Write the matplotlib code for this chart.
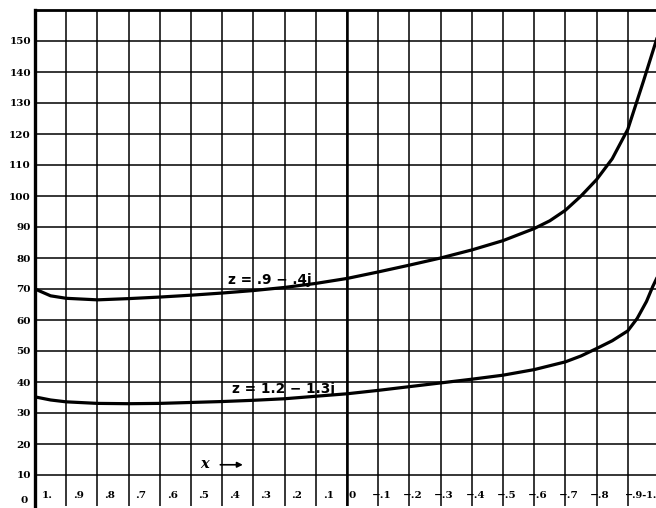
import numpy as np
import matplotlib
matplotlib.use('Agg')
import matplotlib.pyplot as plt

# curve z = .9 - .4j
x_upper = [1.0, .95, .9, .8, .7, .6, .5, .4, .3, .2, .1, 0.0, -.1, -.2, -.3, -.4,
           -.5, -.6, -.65, -.7, -.75, -.8, -.85, -.9, -.95, -1.0]
y_upper = [70.0, 67.8, 67.0, 66.5, 66.9, 67.4, 68.0, 68.7, 69.5, 70.5, 71.8, 73.4,
           75.5, 77.7, 80.0, 82.6, 85.6, 89.5, 92.0, 95.4, 100.0, 105.3, 112.0,
           121.5, 137.0, 153.0]

# curve z = 1.2 - 1.3j
x_lower = [1.0, .95, .9, .8, .7, .6, .5, .4, .3, .2, .1, 0.0, -.1, -.2, -.3, -.4,
           -.5, -.6, -.7, -.75, -.8, -.85, -.9, -.93, -.96, -.98, -1.0]
y_lower = [35.2, 34.2, 33.6, 33.1, 33.0, 33.1, 33.4, 33.7, 34.1, 34.6, 35.4, 36.2,
           37.3, 38.5, 39.7, 40.9, 42.2, 44.0, 46.5, 48.4, 50.8, 53.3, 56.5, 60.5,
           66.0, 70.8, 75.0]

y_ticks = list(range(0, 160, 10))
x_grid = [round(v, 1) for v in np.arange(1.0, -1.01, -0.1)]
x_pos_labels = ['1.', '.9', '.8', '.7', '.6', '.5', '.4', '.3', '.2', '.1']
x_neg_labels = ['\u2212.1', '\u2212.2', '\u2212.3', '\u2212.4', '\u2212.5',
                '\u2212.6', '\u2212.7', '\u2212.8']
x_end_label = '\u2212.9-1.'

fig = plt.figure(figsize=(6.56, 5.08), dpi=100)
ax = fig.add_axes([35 / 656, 2 / 508, 624 / 656, 496 / 508])
ax.set_xlim(1, -1)
ax.set_ylim(0, 160)

# grid
for v in x_grid:
    ax.axvline(v, color='black', lw=1.1, zorder=1)
for v in y_ticks[1:]:
    ax.axhline(v, color='black', lw=1.1, zorder=1)
ax.axvline(0, color='black', lw=1.8, zorder=1)

ax.plot(x_upper, y_upper, color='black', lw=2.3, zorder=3, solid_capstyle='round')
ax.plot(x_lower, y_lower, color='black', lw=2.3, zorder=3, solid_capstyle='round')

ax.set_xticks([])
ax.set_yticks(y_ticks)
ax.set_yticklabels([''] + [str(v) for v in y_ticks[1:]],
                   fontfamily='DejaVu Serif', fontweight='bold', fontsize=7.5)
ax.tick_params(axis='y', length=0, pad=3)
# "0" sits at the very bottom corner
ax.text(-0.012, 0.4, '0', transform=ax.get_yaxis_transform(), ha='right',
        va='bottom', fontfamily='DejaVu Serif', fontweight='bold', fontsize=7.5)

for sp in ['bottom', 'right']:
    ax.spines[sp].set_visible(False)
ax.spines['left'].set_linewidth(2.4)
ax.spines['top'].set_linewidth(2.0)

lab_font = dict(fontfamily='DejaVu Serif', fontweight='bold', fontsize=7.5,
                va='center', ha='left')
for i, t in enumerate(x_pos_labels):
    ax.text(x_grid[i] - 0.022, 3.5, t, **lab_font)
ax.text(-0.005, 3.5, '0', **lab_font)
for i, t in enumerate(x_neg_labels):
    ax.text(-(i + 1) / 10 + 0.02, 3.5, t, **lab_font)
ax.text(-0.994, 3.5, x_end_label, fontfamily='DejaVu Serif', fontweight='bold',
        fontsize=7, va='center', ha='right')

ax.text(0.455, 13.5, 'x', fontfamily='DejaVu Serif', fontstyle='italic',
        fontweight='bold', fontsize=10.5, ha='center', va='center')
ax.annotate('', xy=(0.325, 13.3), xytext=(0.415, 13.3),
            arrowprops=dict(arrowstyle='-|>', color='black', lw=1.2,
                            mutation_scale=8))

ax.text(0.383, 70.6, 'z = .9 \u2212 .4j', fontfamily='DejaVu Sans',
        fontweight='bold', fontsize=9.8, ha='left', va='bottom', zorder=4)
ax.text(0.367, 35.6, 'z = 1.2 \u2212 1.3j', fontfamily='DejaVu Sans',
        fontweight='bold', fontsize=9.8, ha='left', va='bottom', zorder=4)

fig.savefig('out.png', dpi=100)
